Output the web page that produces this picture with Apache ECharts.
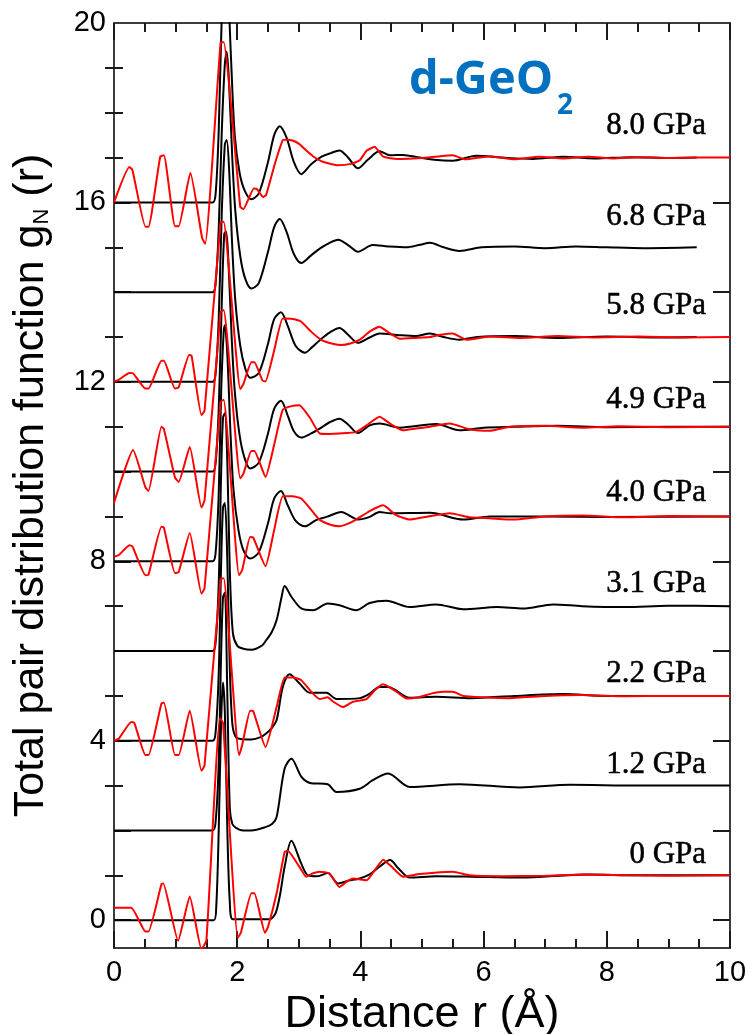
<!DOCTYPE html>
<html><head><meta charset="utf-8">
<script src="https://cdn.jsdelivr.net/npm/echarts@6/dist/echarts.min.js"></script>
<style>html,body{margin:0;padding:0;background:#fff}#c{width:749px;height:1034px}</style>
</head><body><div id="c"></div>
<script>
// ---------- data (r in Å, stacked g_N(r)) ----------
const pressures = ['8.0 GPa','6.8 GPa','5.8 GPa','4.9 GPa','4.0 GPa','3.1 GPa','2.2 GPa','1.2 GPa','0 GPa'];
const labelY = [17.7, 15.68, 13.69, 11.59, 9.53, 7.49, 5.48, 3.46, 1.45];
const labelX = 9.62;

const yLabelValues = [0, 4, 8, 12, 16, 20];
const yMajorTicks = [0, 2, 4, 6, 8, 10, 12, 14, 16];
const yMinorTicks = [1, 3, 5, 7, 9, 11, 13, 15, 17, 18, 19];

const black80 = [[0,16],[1.6,16],[1.65,16.2],[1.7,17.6],[1.75,20.2],[1.8,21.6],[1.85,20.8],[1.9,19.2],[1.96,17.5],[2.04,16.65],[2.12,16.27],[2.23,16.07],[2.35,16.2],[2.5,16.9],[2.6,17.5],[2.69,17.7],[2.8,17.45],[2.92,16.9],[3.04,16.63],[3.2,16.85],[3.37,17.02],[3.52,17.1],[3.66,17.16],[3.8,17.0],[3.96,16.76],[4.12,16.95],[4.31,17.14],[4.48,17.05],[4.69,17.06],[4.96,17.0],[5.2,16.95],[5.5,16.93],[5.88,17.04],[6.3,17.0],[6.8,16.97],[7.3,17.02],[7.8,16.98],[8.4,17.01],[9.0,16.99],[9.46,17.0]];
const black68 = [[0,14],[1.6,14],[1.65,14.2],[1.7,15.4],[1.75,17.6],[1.8,19.1],[1.83,19.36],[1.87,18.6],[1.92,17.0],[1.97,15.8],[2.05,14.8],[2.13,14.3],[2.23,14.08],[2.35,14.2],[2.5,14.9],[2.6,15.45],[2.69,15.63],[2.8,15.35],[2.92,14.85],[3.04,14.65],[3.2,14.82],[3.34,14.97],[3.5,15.1],[3.64,15.17],[3.8,15.05],[3.96,14.9],[4.2,15.05],[4.45,15.02],[4.75,15.0],[4.95,15.05],[5.13,15.1],[5.35,15.0],[5.61,14.92],[5.97,15.0],[6.5,15.02],[7.0,14.98],[7.5,15.02],[8.0,15.0],[8.6,14.98],[9.46,15.0]];
const black58 = [[0,12],[1.6,12],[1.65,12.2],[1.7,13.4],[1.75,15.8],[1.8,17.3],[1.83,17.39],[1.87,16.7],[1.92,15.0],[1.97,13.8],[2.05,12.8],[2.13,12.3],[2.21,12.09],[2.35,12.2],[2.5,12.85],[2.6,13.4],[2.71,13.55],[2.82,13.25],[2.95,12.8],[3.1,12.65],[3.22,12.78],[3.34,12.93],[3.5,13.1],[3.66,13.2],[3.8,13.05],[3.96,12.87],[4.15,12.99],[4.31,13.08],[4.64,13.04],[4.9,13.02],[5.13,13.08],[5.35,13.0],[5.61,12.94],[5.9,13.0],[6.5,13.02],[7.2,12.98],[8.0,13.01],[8.8,12.99],[9.46,13.0]];
const black49 = [[0,10],[1.6,10],[1.65,10.2],[1.7,11.4],[1.75,13.8],[1.79,15.3],[1.82,15.35],[1.86,14.6],[1.91,13.0],[1.96,11.8],[2.04,10.8],[2.12,10.3],[2.21,10.07],[2.35,10.2],[2.5,10.85],[2.6,11.4],[2.71,11.58],[2.82,11.25],[2.92,10.9],[3.04,10.76],[3.2,10.85],[3.34,10.96],[3.5,11.1],[3.66,11.18],[3.8,11.05],[3.96,10.86],[4.15,11.03],[4.31,11.07],[4.64,10.98],[5.23,11.06],[5.61,10.92],[6.0,10.98],[6.5,11.0],[7.2,11.02],[8.0,10.99],[9.0,11.0],[10,11.0]];
const black40 = [[0,8],[1.6,8],[1.65,8.2],[1.7,9.5],[1.74,11.8],[1.78,13.1],[1.8,13.26],[1.84,12.6],[1.89,10.9],[1.94,9.6],[2.02,8.7],[2.1,8.25],[2.21,8.06],[2.35,8.2],[2.5,8.85],[2.6,9.4],[2.71,9.57],[2.82,9.25],[2.95,8.9],[3.1,8.78],[3.28,8.92],[3.45,8.99],[3.69,9.1],[3.82,9.02],[3.96,8.93],[4.15,8.99],[4.31,9.1],[4.48,9.07],[5.13,9.08],[5.67,8.93],[6.1,9.0],[7.0,9.0],[8.0,8.99],[10,9.0]];
const black31 = [[0,6],[1.6,6],[1.65,6.2],[1.7,7.5],[1.74,10.0],[1.77,11.2],[1.8,11.3],[1.84,10.2],[1.88,7.8],[1.93,6.4],[2.0,6.12],[2.1,6.05],[2.23,6.03],[2.4,6.12],[2.47,6.24],[2.56,6.42],[2.64,6.69],[2.72,7.2],[2.77,7.45],[2.88,7.21],[3.04,6.95],[3.23,6.91],[3.47,7.06],[3.66,7.02],[3.93,6.91],[4.15,7.07],[4.42,7.12],[4.8,6.98],[5.23,7.04],[5.67,6.93],[6.22,6.98],[6.64,6.95],[7.13,7.04],[7.6,7.0],[8.3,6.98],[9.0,7.01],[10,7.0]];
const black22 = [[0,4],[1.6,4],[1.65,4.2],[1.7,5.5],[1.74,8.0],[1.77,9.2],[1.8,9.3],[1.84,8.0],[1.88,5.6],[1.92,4.4],[1.97,4.1],[2.05,4.04],[2.23,4.03],[2.38,4.08],[2.47,4.16],[2.56,4.28],[2.64,4.46],[2.74,5.2],[2.85,5.48],[3.01,5.28],[3.18,5.07],[3.45,5.07],[3.61,4.93],[3.99,4.95],[4.15,5.05],[4.31,5.2],[4.45,5.2],[4.8,4.96],[5.23,4.98],[5.8,4.95],[6.5,5.0],[7.29,5.04],[8.0,5.0],[10,5.0]];
const black12 = [[0,2],[1.6,2],[1.65,2.2],[1.7,3.5],[1.74,6.0],[1.77,7.2],[1.8,7.3],[1.84,5.0],[1.88,2.5],[1.92,2.15],[1.98,2.06],[2.1,2.0],[2.23,2.0],[2.47,2.08],[2.57,2.15],[2.64,2.3],[2.77,3.38],[2.88,3.6],[3.04,3.2],[3.18,3.06],[3.47,3.03],[3.61,2.86],[3.99,2.93],[4.2,3.12],[4.45,3.27],[4.8,2.97],[5.61,3.03],[6.59,2.96],[7.4,3.02],[8.5,3.0],[10,3.0]];
const black00 = [[0,0],[1.62,0],[1.66,0.3],[1.7,2.0],[1.74,4.5],[1.77,5.3],[1.8,4.6],[1.84,2.0],[1.88,0.4],[1.93,0.02],[2.53,0.02],[2.6,0.1],[2.64,0.22],[2.7,0.6],[2.77,1.19],[2.88,1.77],[3.04,1.26],[3.15,1.0],[3.3,0.98],[3.47,1.05],[3.64,0.82],[3.8,0.88],[3.99,0.93],[4.15,1.02],[4.31,1.19],[4.48,1.34],[4.62,1.15],[4.8,0.95],[5.23,0.98],[5.8,0.97],[6.59,0.95],[7.67,1.02],[8.5,1.0],[10,1.0]];

const red80 = [[0,16.0],[0.25,16.79],[0.3,16.72],[0.51,15.46],[0.56,15.46],[0.75,17.02],[0.81,17.05],[0.99,15.47],[1.05,15.47],[1.24,16.66],[1.43,15.21],[1.48,15.08],[1.73,19.56],[1.78,19.57],[2.05,15.9],[2.1,15.85],[2.27,16.31],[2.32,16.3],[2.42,16.12],[2.47,16.17],[2.62,16.9],[2.74,17.39],[2.8,17.4],[2.9,17.38],[3.01,17.3],[3.12,17.16],[3.23,17.03],[3.4,16.9],[3.64,16.83],[3.85,16.86],[3.99,16.94],[4.1,17.15],[4.23,17.24],[4.37,17.02],[4.6,16.97],[4.86,16.98],[5.1,17.0],[5.3,17.03],[5.5,17.05],[5.7,16.96],[6.1,17.03],[6.5,16.96],[6.9,17.02],[7.3,16.98],[7.7,17.02],[8.1,16.98],[8.5,17.01],[9.0,16.99],[9.5,17.0],[10,17.0]];
const red58 = [[0,12.0],[0.08,12.05],[0.25,12.2],[0.31,12.19],[0.51,11.85],[0.56,11.85],[0.77,12.47],[0.81,12.47],[0.99,11.85],[1.05,11.88],[1.22,12.6],[1.26,12.58],[1.42,11.26],[1.47,11.36],[1.73,15.55],[1.78,15.57],[2.05,11.84],[2.1,11.95],[2.23,12.44],[2.28,12.44],[2.41,12.03],[2.46,12.01],[2.6,12.7],[2.74,13.41],[2.9,13.4],[3.04,13.34],[3.2,13.12],[3.37,12.93],[3.55,12.85],[3.69,12.82],[3.85,12.86],[3.99,12.94],[4.15,13.12],[4.31,13.23],[4.48,13.08],[4.64,12.96],[4.9,12.98],[5.13,13.0],[5.3,13.05],[5.5,13.08],[5.72,12.94],[6.1,13.01],[6.6,12.98],[7.2,13.02],[7.8,12.99],[8.5,13.01],[9.2,12.99],[10,13.0]];
const red49 = [[0,9.3],[0.31,10.48],[0.51,9.65],[0.56,9.57],[0.77,11.0],[0.81,10.95],[0.99,9.87],[1.05,9.77],[1.23,10.55],[1.42,9.2],[1.47,9.36],[1.73,13.55],[1.78,13.6],[2.05,9.85],[2.1,9.95],[2.23,10.46],[2.28,10.46],[2.46,9.88],[2.6,10.6],[2.74,11.38],[2.88,11.46],[3.01,11.48],[3.18,11.2],[3.34,10.85],[3.5,10.84],[3.66,10.85],[3.93,10.88],[4.12,11.05],[4.31,11.22],[4.5,11.05],[4.69,10.92],[4.9,10.96],[5.13,11.0],[5.45,11.07],[5.78,10.94],[6.1,10.91],[6.43,11.0],[7.0,11.02],[7.6,10.98],[8.2,11.01],[9.0,10.99],[10,11.0]];
const red40 = [[0,8.1],[0.08,8.14],[0.25,8.36],[0.3,8.33],[0.51,7.69],[0.56,7.7],[0.77,8.77],[0.81,8.75],[0.99,7.74],[1.05,7.76],[1.23,8.63],[1.42,7.28],[1.47,7.4],[1.73,11.55],[1.78,11.6],[2.03,7.69],[2.08,7.8],[2.21,8.54],[2.26,8.53],[2.46,7.89],[2.6,8.7],[2.74,9.45],[2.9,9.45],[3.04,9.4],[3.2,9.15],[3.34,8.92],[3.5,8.82],[3.66,8.78],[3.8,8.84],[3.93,8.93],[4.15,9.12],[4.37,9.25],[4.58,9.03],[4.8,8.93],[5.1,9.0],[5.45,9.07],[5.78,8.98],[6.1,8.96],[6.48,8.93],[7.0,9.0],[7.6,9.02],[8.3,8.98],[9.0,9.01],[10,9.0]];
const red22 = [[0,4.0],[0.08,4.05],[0.28,4.42],[0.33,4.4],[0.51,3.68],[0.56,3.68],[0.77,4.83],[0.81,4.85],[0.99,3.68],[1.05,3.68],[1.23,4.67],[1.42,3.33],[1.47,3.45],[1.73,7.6],[1.78,7.62],[2.03,3.68],[2.08,3.9],[2.21,4.67],[2.26,4.66],[2.46,3.86],[2.64,4.75],[2.77,5.41],[2.91,5.41],[3.04,5.35],[3.23,5.05],[3.34,4.93],[3.47,4.97],[3.56,4.87],[3.72,4.75],[3.88,4.87],[4.1,4.93],[4.25,5.15],[4.37,5.26],[4.58,5.1],[4.75,4.94],[4.95,4.97],[5.15,5.05],[5.34,5.09],[5.5,5.09],[5.67,5.0],[6.0,4.97],[6.4,4.95],[7.0,5.0],[7.6,5.02],[8.3,4.99],[9.0,5.0],[10,5.0]];
const red00 = [[0,0.28],[0.28,0.28],[0.51,-0.25],[0.56,-0.25],[0.77,0.8],[0.8,0.82],[1.04,-0.46],[1.23,0.53],[1.42,-0.65],[1.5,-0.45],[1.72,4.5],[1.77,4.4],[2.01,-0.39],[2.06,-0.28],[2.23,0.6],[2.28,0.6],[2.45,-0.28],[2.5,-0.15],[2.64,0.6],[2.77,1.52],[2.82,1.55],[3.01,1.19],[3.12,0.97],[3.22,1.04],[3.34,1.08],[3.5,1.04],[3.66,0.74],[3.78,0.86],[3.88,0.93],[4.1,0.89],[4.25,1.15],[4.37,1.35],[4.5,1.2],[4.69,0.97],[4.96,1.03],[5.2,1.06],[5.5,1.08],[5.78,1.0],[6.3,0.98],[7.0,0.99],[7.6,1.02],[8.3,1.0],[9.0,0.99],[10,1.0]];

const blackCurves = [black80, black68, black58, black49, black40, black31, black22, black12, black00];
const redCurves = [red80, red58, red49, red40, red22, red00];

// ---------- chart ----------
const AX = '#3c3c3c';
const SANS = '"Liberation Sans", Arial, sans-serif';
const tickStyle = {color: '#1a1a1a', width: 2};

function xAx(pos, showLabel) {
  return {
    type: 'value', min: 0, max: 10, interval: 2, position: pos,
    axisLine: {show: true, onZero: false, lineStyle: {color: AX, width: 2}},
    axisTick: {show: true, inside: true, length: 17, lineStyle: tickStyle},
    minorTick: {show: true, splitNumber: 4, length: 9, lineStyle: tickStyle},
    axisLabel: {show: showLabel, fontSize: 29, color: '#000', fontFamily: SANS, margin: 10},
    splitLine: {show: false}, minorSplitLine: {show: false}
  };
}
function yAx(pos, ticks, len, extra) {
  return Object.assign({
    type: 'value', min: -0.62, max: 20, position: pos,
    axisLine: {show: true, onZero: false, lineStyle: {color: AX, width: 2}},
    axisTick: {show: true, inside: true, length: len, customValues: ticks, lineStyle: tickStyle},
    axisLabel: {show: false},
    splitLine: {show: false}
  }, extra || {});
}

const xMain = xAx('bottom', true);
xMain.name = 'Distance r (Å)';
xMain.nameLocation = 'middle';
xMain.nameGap = 19;
xMain.nameTextStyle = {fontSize: 45, fontFamily: SANS, color: '#000'};

const yMain = yAx('left', yMajorTicks, 17, {
  axisLabel: {show: true, customValues: yLabelValues, fontSize: 29, color: '#000', fontFamily: SANS, margin: 8},
  name: 'Total pair distribution function g{sub|N} (r)',
  nameLocation: 'middle', nameGap: 61,
  nameTextStyle: {fontSize: 43, fontFamily: SANS, color: '#000',
    rich: {sub: {fontSize: 22, fontFamily: SANS, color: '#000', lineHeight: 10, verticalAlign: 'bottom'}}}
});

const series = [];
blackCurves.forEach((d) => series.push({
  type: 'line', data: d, xAxisIndex: 0, yAxisIndex: 0, showSymbol: false, smooth: 0.3,
  lineStyle: {color: '#000', width: 2}, z: 2, silent: true
}));
redCurves.forEach((d) => series.push({
  type: 'line', data: d, xAxisIndex: 0, yAxisIndex: 0, showSymbol: false, smooth: 0.15,
  lineStyle: {color: '#ff0000', width: 2}, z: 3, silent: true
}));
series.push({
  type: 'scatter', xAxisIndex: 0, yAxisIndex: 0, symbolSize: 1,
  itemStyle: {color: 'rgba(0,0,0,0)'},
  data: pressures.map((p, i) => ({name: p, value: [labelX, labelY[i]]})),
  label: {show: true, position: 'left', distance: 0, formatter: '{b}', opacity: 1,
    fontFamily: '"Liberation Serif", "Times New Roman", serif', fontSize: 31, color: '#000',
    textBorderColor: '#000', textBorderWidth: 0.5},
  z: 5, silent: true
});

const chart = echarts.init(document.getElementById('c'), null, {renderer: 'canvas'});
chart.setOption({
  animation: false,
  backgroundColor: '#fff',
  grid: {left: 114, right: 19, top: 23, bottom: 86, containLabel: false, outerBoundsMode: 'none'},
  xAxis: [xMain, xAx('top', false)],
  yAxis: [
    yMain,
    yAx('left', yMinorTicks, 9, {axisLine: {show: false}}),
    yAx('right', yMajorTicks, 17),
    yAx('right', yMinorTicks, 9, {axisLine: {show: false}})
  ],
  graphic: [
    {type: 'text', left: 409, top: 57, style: {text: 'd-GeO', fill: '#0070C0', font: 'bold 47px "Open Sans"'}},
    {type: 'text', left: 557, top: 92, style: {text: '2', fill: '#0070C0', font: 'bold 28px "Open Sans"'}}
  ],
  series: series
});
</script></body></html>
